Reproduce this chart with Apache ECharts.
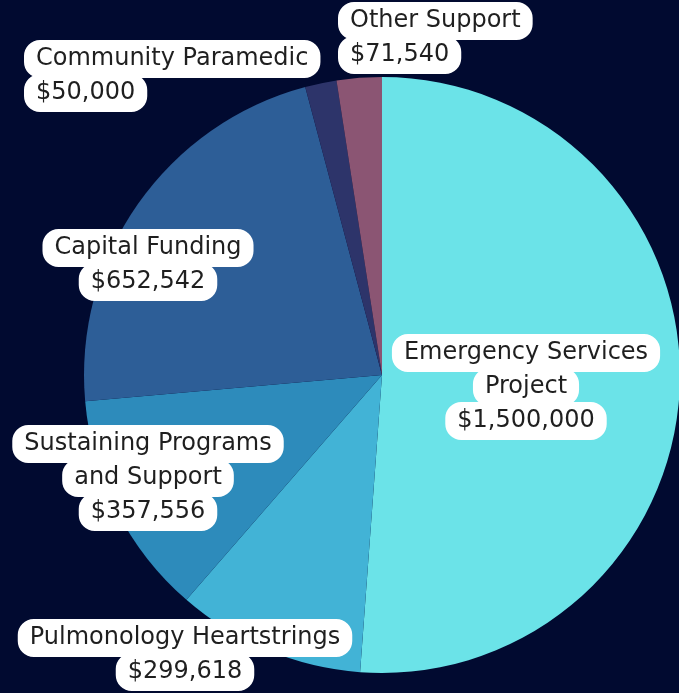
<!DOCTYPE html>
<html>
<head>
<meta charset="utf-8">
<script src="https://cdn.jsdelivr.net/npm/echarts@6/dist/echarts.min.js"></script>
<style>
  html, body { margin: 0; padding: 0; background: #010a30; }
  #chart { width: 679px; height: 693px; }
</style>
</head>
<body>
<div id="chart"></div>
<script>
// slices, clockwise from 12 o'clock
const categories = ['Emergency Services Project', 'Pulmonology Heartstrings', 'Sustaining Programs and Support', 'Capital Funding', 'Community Paramedic', 'Other Support']
const amounts = [1500000, 299618, 357556, 652542, 50000, 71540]
// how each label is broken into lines
const labelLines = [
  ['Emergency Services', 'Project'],
  ['Pulmonology Heartstrings'],
  ['Sustaining Programs', 'and Support'],
  ['Capital Funding'],
  ['Community Paramedic'],
  ['Other Support']
]
const colors = ['#6be3e8', '#42b3d6', '#2d8bbb', '#2d5e97', '#2d346a', '#8b5573']

// where the label boxes sit (label anchor, align)
const labelSpots = [
  { x: 526, y: 387, align: 'center' },
  { x: 185, y: 655, align: 'center' },
  { x: 148, y: 478, align: 'center' },
  { x: 148, y: 265, align: 'center' },
  { x: 27, y: 76, align: 'left' },
  { x: 341, y: 38, align: 'left' }
]

const fmt = v => '$' + v.toLocaleString('en-US')

const chart = echarts.init(document.getElementById('chart'))
chart.setOption({
  backgroundColor: '#010a30',
  animation: false,
  series: [{
    type: 'pie',
    center: [382, 375],
    radius: 298,
    startAngle: 90,
    clockwise: true,
    avoidLabelOverlap: false,
    data: categories.map((name, i) => ({
      name: name,
      value: amounts[i],
      itemStyle: { color: colors[i] }
    })),
    labelLine: { show: false },
    label: {
      show: true,
      position: 'inside',
      formatter: p => labelLines[p.dataIndex].concat([fmt(p.value)]).map(s => '{a|' + s + '}').join('\n'),
      rich: {
        a: {
          fontFamily: 'DejaVu Sans',
          fontSize: 24,
          color: '#1f1f1f',
          backgroundColor: '#ffffff',
          borderColor: '#ffffff',
          borderWidth: 3,
          borderRadius: 13,
          lineHeight: 34,
          padding: [4, 9]
        }
      }
    },
    labelLayout: p => {
      const s = labelSpots[p.dataIndex]
      return { x: s.x, y: s.y, align: s.align, verticalAlign: 'middle' }
    }
  }]
})
</script>
</body>
</html>
